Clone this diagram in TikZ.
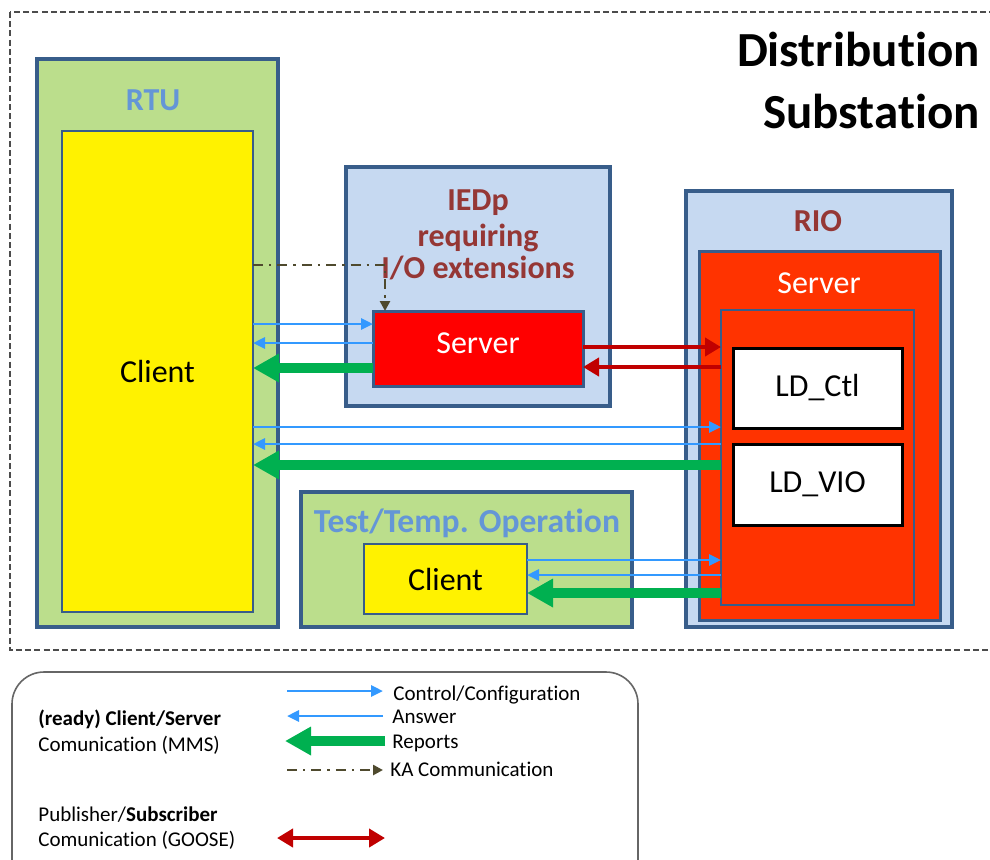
\documentclass[tikz,border=0pt]{standalone}
\usepackage{fontspec}
\setmainfont{Carlito}[Ligatures=NoCommon]
\usetikzlibrary{arrows.meta}
\newcommand{\nolig}{\kern0pt }
\definecolor{gfill}{RGB}{187,222,140}
\definecolor{bfill}{RGB}{198,217,241}
\definecolor{bord}{RGB}{56,93,138}
\definecolor{srvred}{RGB}{255,0,0}
\definecolor{rioorg}{RGB}{255,51,0}
\definecolor{lblue}{RGB}{100,150,215}
\definecolor{dred}{RGB}{149,55,53}
\definecolor{arrblue}{RGB}{51,153,255}
\definecolor{arrgreen}{RGB}{0,176,80}
\definecolor{arrred}{RGB}{192,0,0}
\definecolor{kacol}{RGB}{79,74,46}
\begin{document}
\begin{tikzpicture}[x=0.5pt,y=-0.5pt,
  box/.style={draw=bord, inner sep=0pt, outer sep=0pt, anchor=center},
  bigtxt/.style={font=\fontsize{16}{19}\selectfont},
  legtxt/.style={font=\fontsize{10.5}{12}\selectfont, inner sep=0pt},
  bluearr/.style={draw=arrblue, line width=1.4pt, -{Triangle[length=6pt,width=5.5pt]}},
  greenarr/.style={draw=arrgreen, line width=5pt, -{Triangle[length=13pt,width=13.5pt]}},
  redarr/.style={draw=arrred, line width=2.4pt, -{Triangle[length=8pt,width=9pt]}},
  kaarr/.style={draw=kacol, line width=1.3pt, dash pattern=on 5pt off 3pt on 1.2pt off 3pt, -{Triangle[length=5pt,width=5pt]}}
]
\useasboundingbox (0,0) rectangle (990,859);
\clip (0,0) rectangle (990,859);
\fill[white] (0,0) rectangle (990,859);

% outer dashed frame
\draw[draw=black!70, line width=0.8pt, dash pattern=on 3pt off 1.6pt] (10,12) rectangle (1010,650);

% title
\node[font=\bfseries\fontsize{24.5}{28}\selectfont, anchor=base east, inner sep=0pt] (title1) at (980,66) {Distribut\nolig ion};
\node[font=\bfseries\fontsize{24.5}{28}\selectfont, anchor=base east, inner sep=0pt] (title2) at (980,128) {Substat\nolig ion};

% RTU
\node[box, fill=gfill, line width=2pt, minimum width=120.5pt, minimum height=284pt] (rtu) at (157.5,343) {};
\node[font=\bfseries\fontsize{16}{19}\selectfont, text=lblue] (rtulbl) at (153,100) {RTU};
\node[box, fill=yellow, line width=1.2pt, minimum width=95.5pt, minimum height=240.5pt, bigtxt] (rtuclient) at (157.5,371.5) {\raisebox{-2pt}{Client}};

% IEDp
\node[box, fill=bfill, line width=1.8pt, minimum width=132pt, minimum height=119.5pt] (ied) at (478,286.5) {};
\node[font=\bfseries\fontsize{16}{19}\selectfont, text=dred, anchor=base, inner sep=0pt] (iedl1) at (478,210) {IEDp};
\node[font=\bfseries\fontsize{16}{19}\selectfont, text=dred, anchor=base, inner sep=0pt] (iedl2) at (478,246) {requiring};
\node[font=\bfseries\fontsize{16}{19}\selectfont, text=dred, anchor=base, inner sep=0pt] (iedl3) at (478,278) {I/O extensions};
\node[box, fill=srvred, line width=1.5pt, minimum width=105pt, minimum height=37.5pt, bigtxt, text=white] (iedsrv) at (478,348.5) {\raisebox{5pt}{Server}};

% RIO
\node[box, fill=bfill, line width=1.8pt, minimum width=133pt, minimum height=218pt] (rio) at (819,409) {};
\node[font=\bfseries\fontsize{16}{19}\selectfont, text=dred] (riolbl) at (818,221) {RIO};
\node[box, fill=rioorg, line width=1.5pt, minimum width=120.5pt, minimum height=184.5pt] (riosrv) at (819.5,435.5) {};
\node[bigtxt, text=white] (riosrvlbl) at (819,283) {Server};
\node[box, fill=rioorg, line width=1pt, minimum width=96.5pt, minimum height=147.5pt] (inner) at (817.5,457.5) {};
\node[box, draw=black, fill=white, line width=1.5pt, minimum width=84.5pt, minimum height=40pt, bigtxt] (ldctl) at (817.5,388) {LD\_Ctl};
\node[box, draw=black, fill=white, line width=1.5pt, minimum width=84.5pt, minimum height=40.5pt, bigtxt] (ldvio) at (817.5,484.5) {LD\_VIO};

% Test/Temp
\node[box, fill=gfill, line width=1.8pt, minimum width=165.5pt, minimum height=67.5pt] (test) at (466.5,559.5) {};
\node[font=\bfseries\fontsize{16.8}{19}\selectfont, text=lblue] (testlbl) at (467,523) {Test/Temp. Operat\nolig ion};
\node[box, fill=yellow, line width=1.2pt, minimum width=81.5pt, minimum height=35pt, bigtxt] (testclient) at (445.5,579) {Client};

% y levels
\coordinate (ka) at (385,265);
\coordinate (y1) at (0,324);
\coordinate (y2) at (0,343);
\coordinate (y3) at (0,368);
\coordinate (r1) at (0,347);
\coordinate (r2) at (0,367);
\coordinate (y4) at (0,427);
\coordinate (y5) at (0,444);
\coordinate (y6) at (0,465);
\coordinate (y7) at (0,560);
\coordinate (y8) at (0,575);
\coordinate (y9) at (0,593);

% KA
\draw[kaarr] (rtuclient.east |- ka) -- (ka) -- (ka |- iedsrv.north);

% RTU <-> IEDp server
\draw[bluearr] (rtuclient.east |- y1) -- (iedsrv.west |- y1);
\draw[bluearr] (iedsrv.west |- y2) -- (rtuclient.east |- y2);
\draw[greenarr] (iedsrv.west |- y3) -- (rtuclient.east |- y3);

% GOOSE
\draw[redarr] (iedsrv.east |- r1) -- (inner.west |- r1);
\draw[redarr] (inner.west |- r2) -- (iedsrv.east |- r2);

% RTU <-> RIO
\draw[bluearr] (rtuclient.east |- y4) -- (inner.west |- y4);
\draw[bluearr] (inner.west |- y5) -- (rtuclient.east |- y5);
\draw[greenarr] (inner.west |- y6) -- (rtuclient.east |- y6);

% Test client <-> RIO
\draw[bluearr] (testclient.east |- y7) -- (inner.west |- y7);
\draw[bluearr] (inner.west |- y8) -- (testclient.east |- y8);
\draw[greenarr] (inner.west |- y9) -- (testclient.east |- y9);

% legend
\draw[draw=black!60, line width=0.8pt, rounded corners=16pt] (12,672) rectangle (638,900);
\node[legtxt, anchor=base west, font=\bfseries\fontsize{10.5}{12}\selectfont] (lg1) at (38,725) {(ready) Client/Server};
\node[legtxt, anchor=base west] (lg2) at (38,751) {Comunicat\nolig ion (MMS)};
\node[legtxt, anchor=base west] (lg3) at (38,821) {Publisher/\textbf{Subscriber}};
\node[legtxt, anchor=base west] (lg4) at (38,846) {Comunicat\nolig ion (GOOSE)};

\coordinate (la1) at (287,691);
\coordinate (lb1) at (383,691);
\coordinate (la2) at (287,716);
\coordinate (lb2) at (383,716);
\coordinate (la3) at (285,741);
\coordinate (lb3) at (385,741);
\coordinate (la4) at (287,770);
\coordinate (lb4) at (383,770);
\coordinate (la5) at (277,838);
\coordinate (lb5) at (385,838);
\draw[bluearr] (la1) -- (lb1);
\draw[bluearr] (lb2) -- (la2);
\draw[greenarr] (lb3) -- (la3);
\draw[kaarr] (la4) -- (lb4);
\draw[redarr, {Triangle[length=8pt,width=9pt]}-{Triangle[length=8pt,width=9pt]}] (la5) -- (lb5);

\node[legtxt, anchor=base west] (ll1) at (393,700) {Control/Configurat\nolig ion};
\node[legtxt, anchor=base west] (ll2) at (392,723) {Answer};
\node[legtxt, anchor=base west] (ll3) at (392,748) {Reports};
\node[legtxt, anchor=base west] (ll4) at (390,776) {KA Communicat\nolig ion};
\end{tikzpicture}
\end{document}
